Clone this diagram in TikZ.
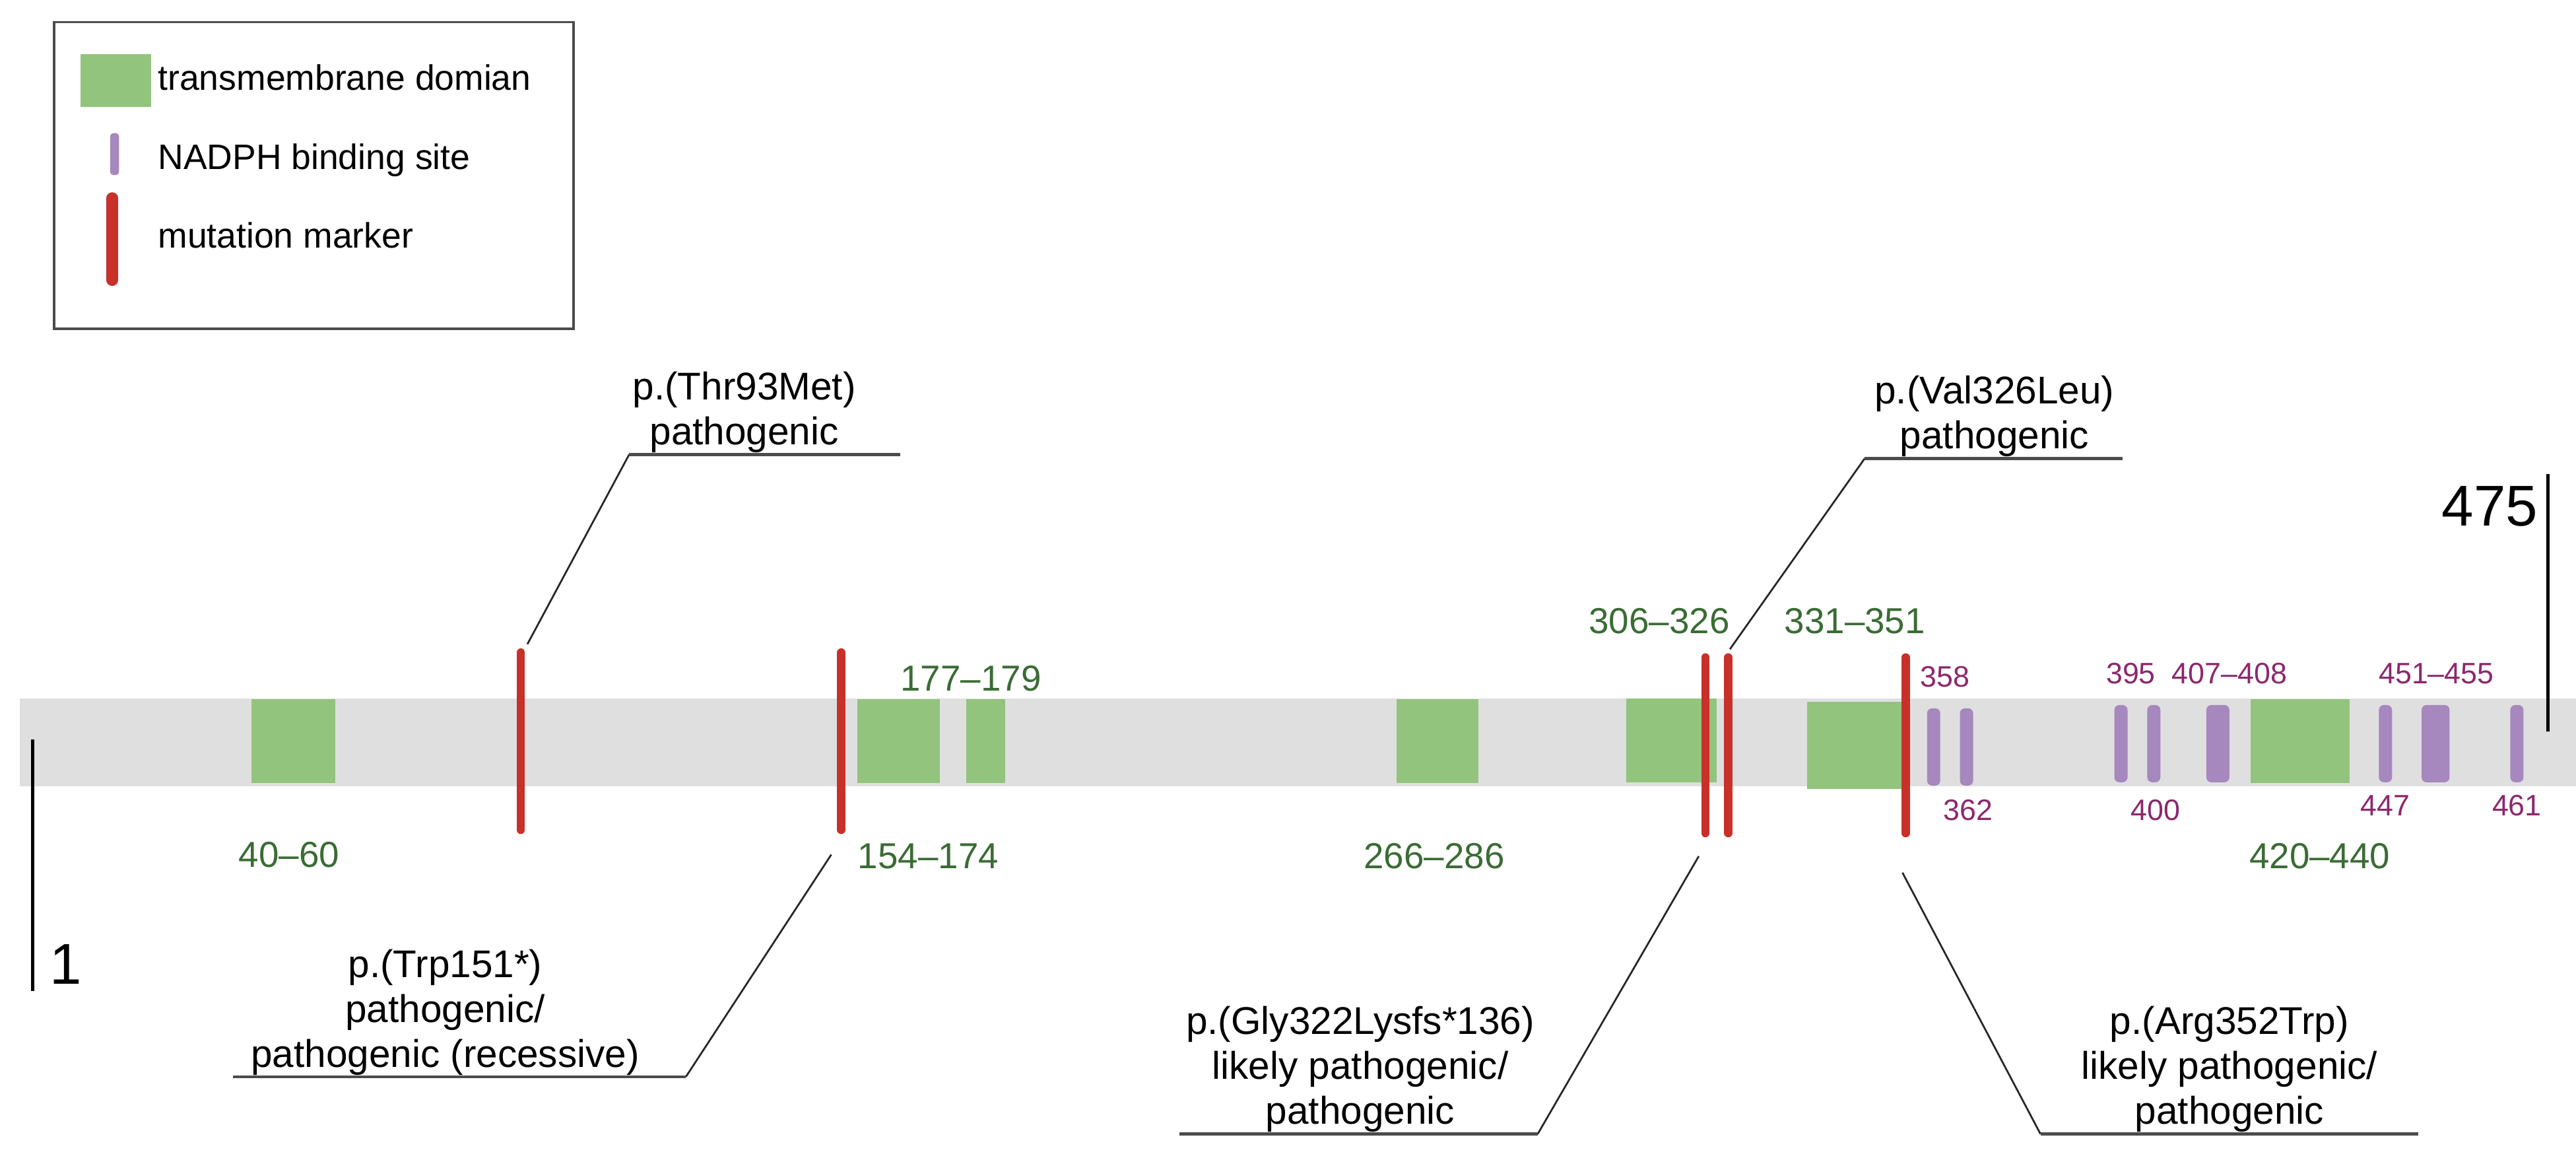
\documentclass[tikz,border=0pt]{standalone}
\usepackage{fontspec}
\setmainfont{Liberation Sans}
\definecolor{tmgreen}{RGB}{146,196,125}
\definecolor{lblgreen}{RGB}{58,108,52}
\definecolor{nadfill}{RGB}{166,135,190}
\definecolor{lblpurple}{RGB}{140,40,110}
\definecolor{mutred}{RGB}{200,48,42}
\definecolor{bargray}{RGB}{224,223,224}
\begin{document}
\begin{tikzpicture}[x=1pt,y=-1pt,
  tm/.style={fill=tmgreen, draw=none, inner sep=0pt},
  nad/.style={fill=nadfill, draw=none, rounded corners=3pt, inner sep=0pt},
  mut/.style={draw=mutred, line width=5pt, line cap=round},
  call/.style={draw=black!85, line width=1.1pt},
  shelf/.style={draw=black!70, line width=1.8pt},
  calltext/.style={font=\fontsize{23.5}{27.3}\selectfont, align=center, inner sep=0pt, anchor=south},
  glabel/.style={text=lblgreen, font=\fontsize{22}{25}\selectfont, inner sep=0pt},
  plabel/.style={text=lblpurple, font=\fontsize{18}{20}\selectfont, inner sep=0pt},
  legtext/.style={font=\fontsize{21.5}{25}\selectfont, inner sep=0pt, anchor=base west},
  scaletext/.style={font=\fontsize{35}{38}\selectfont, inner sep=0pt},
  scaleline/.style={draw=black, line width=2pt}
]
\useasboundingbox (0,0) rectangle (1568,707);

% legend
\node[draw=black!70, line width=1.5pt, minimum width=316pt, minimum height=186.5pt, inner sep=0pt] (legend) at (191,106.7) {};
\node[tm, minimum width=43pt, minimum height=32pt] (legtm) at (70.5,49) {};
\fill[nadfill, rounded corners=2pt] (67,81) rectangle (72.5,106.5);
\draw[mutred, line width=7pt, line cap=round] (68.3,120.5) -- (68.3,170.5);
\node[legtext] (lt1) at (96,55) {transmembrane domian};
\node[legtext] (lt2) at (96,103) {NADPH binding site};
\node[legtext] (lt3) at (96,151) {mutation marker};

% gray protein bar
\fill[bargray] (12,425) rectangle (1568,478.5);

% transmembrane domains
\node[tm, minimum width=51pt, minimum height=51pt] (tm1) at (178.5,451) {};
\node[tm, minimum width=50pt, minimum height=51pt] (tm2) at (547,451) {};
\node[tm, minimum width=24pt, minimum height=51pt] (tm3) at (600,451) {};
\node[tm, minimum width=50pt, minimum height=51pt] (tm4) at (875,451) {};
\node[tm, minimum width=55pt, minimum height=51pt] (tm5) at (1017.5,450.5) {};
\node[tm, minimum width=60pt, minimum height=53pt] (tm6) at (1130,453.5) {};
\node[tm, minimum width=60pt, minimum height=51pt] (tm7) at (1400,451) {};

% NADPH binding sites
\fill[nad] (1173,431) rectangle (1181,478);
\fill[nad] (1193,431) rectangle (1201,478);
\fill[nad] (1287,429) rectangle (1295,476);
\fill[nad] (1307,429) rectangle (1315,476);
\fill[nad] (1343,429) rectangle (1357,476);
\fill[nad] (1448,429) rectangle (1456,476);
\fill[nad] (1474,429) rectangle (1491,476);
\fill[nad] (1528,429) rectangle (1536,476);

% domain labels
\node[glabel] (g1) at (176,520) {40–60};
\node[glabel] (g2) at (565,521) {154–174};
\node[glabel] (g3) at (591,413) {177–179};
\node[glabel] (g4) at (873,521) {266–286};
\node[glabel] (g5) at (1010,378) {306–326};
\node[glabel] (g6) at (1129,378) {331–351};
\node[glabel] (g7) at (1412,521) {420–440};

% NADPH labels
\node[plabel] (p1) at (1184,412) {358};
\node[plabel] (p2) at (1198,493) {362};
\node[plabel] (p3) at (1297,410) {395};
\node[plabel] (p4) at (1357,410) {407–408};
\node[plabel] (p5) at (1312,493) {400};
\node[plabel] (p6) at (1452,490) {447};
\node[plabel] (p7) at (1483,410) {451–455};
\node[plabel] (p8) at (1532,490) {461};

% mutation markers
\draw[mut] (317,397) -- (317,505);
\draw[mut] (512,397) -- (512,505);
\draw[mut] (1038,400) -- (1038,507);
\draw[mut] (1052,400) -- (1052,507);
\draw[mut] (1160,400) -- (1160,507);

% scale
\draw[scaleline] (20,450) -- (20,603);
\node[scaletext, anchor=base west] (one) at (30,598.6) {1};
\draw[scaleline] (1551,288.5) -- (1551,445);
\node[scaletext, anchor=base east] (end) at (1545,320) {475};

% callouts
\coordinate (c1a) at (321,392);
\coordinate (c1b) at (383,276.5);
\coordinate (c1c) at (548,276.5);
\draw[call] (c1a) -- (c1b);
\draw[shelf] (c1b) -- (c1c);
\node[calltext] (t1) at (453,275.5) {p.(Thr93Met)\\pathogenic};

\coordinate (c2a) at (506,520);
\coordinate (c2b) at (417.5,655.2);
\coordinate (c2c) at (142,655.2);
\draw[call] (c2a) -- (c2b);
\draw[shelf] (c2b) -- (c2c);
\node[calltext] (t2) at (271,654.5) {p.(Trp151*)\\pathogenic/\\pathogenic (recessive)};

\coordinate (c3a) at (1053,395);
\coordinate (c3b) at (1135,279);
\coordinate (c3c) at (1292,279);
\draw[call] (c3a) -- (c3b);
\draw[shelf] (c3b) -- (c3c);
\node[calltext] (t3) at (1214,278) {p.(Val326Leu)\\pathogenic};

\coordinate (c4a) at (1034,521);
\coordinate (c4b) at (936,690);
\coordinate (c4c) at (718,690);
\draw[call] (c4a) -- (c4b);
\draw[shelf] (c4b) -- (c4c);
\node[calltext] (t4) at (828,689) {p.(Gly322Lysfs*136)\\likely pathogenic/\\pathogenic};

\coordinate (c5a) at (1158,531);
\coordinate (c5b) at (1242,690);
\coordinate (c5c) at (1472,690);
\draw[call] (c5a) -- (c5b);
\draw[shelf] (c5b) -- (c5c);
\node[calltext] (t5) at (1357,689) {p.(Arg352Trp)\\likely pathogenic/\\pathogenic};
\end{tikzpicture}
\end{document}
